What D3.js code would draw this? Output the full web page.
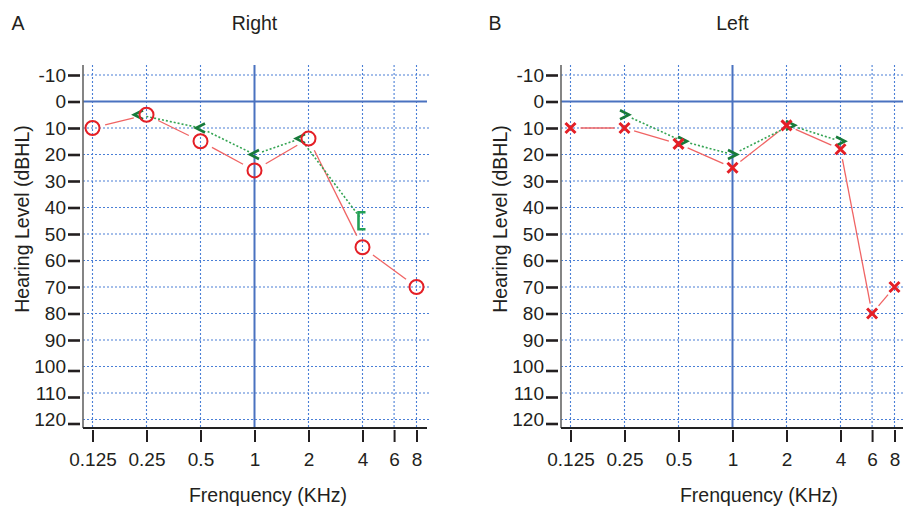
<!DOCTYPE html>
<html>
<head>
<meta charset="utf-8">
<script src="https://cdn.jsdelivr.net/npm/d3@7"></script>
<style>
  body { margin: 0; background: #fff; }
  svg { display: block; font-family: "Liberation Sans", Arial, sans-serif; }
  .tick text { font-size: 19px; fill: #231f20; }
</style>
</head>
<body>
<div id="chart"></div>
<script>
// frequency axis (kHz)
var freqTicks = [0.125, 0.25, 0.5, 1, 2, 4, 6, 8];
var freqLabels = ['0.125', '0.25', '0.5', '1', '2', '4', '6', '8'];
// hearing level axis (dBHL)
var dbTicks = [-10, 0, 10, 20, 30, 40, 50, 60, 70, 80, 90, 100, 110, 120];
var dbLabels = ['-10', '0', '10', '20', '30', '40', '50', '60', '70', '80', '90', '100', '110', '120'];

// A - right ear
var rightAirFreq = [0.125, 0.25, 0.5, 1, 2, 4, 8];
var rightAirDb = [10, 5, 15, 26, 14, 55, 70];
var rightBoneFreq = [0.25, 0.5, 1, 2, 4];
var rightBoneDb = [5, 10, 20, 14, 45];
var rightBoneSym = ['<', '<', '<', '<', '['];

// B - left ear
var leftAirFreq = [0.125, 0.25, 0.5, 1, 2, 4, 6, 8];
var leftAirDb = [10, 10, 16, 25, 9, 18, 80, 70];
var leftBoneFreq = [0.25, 0.5, 1, 2, 4];
var leftBoneDb = [5, 15, 20, 9, 15];
var leftBoneSym = ['>', '>', '>', '>', '>'];

var W = 903, H = 506;
var red = '#e41f26', redLine = '#f06464';
var green = '#177a3a', greenLine = '#35a453';
var gridBlue = '#4a7fd6', solidBlue = '#4a72c0';

var svg = d3.select('#chart').append('svg')
  .attr('width', W).attr('height', H);

var y = d3.scaleLinear().domain([-10, 120]).range([75, 419.5]);
var plotTop = 65, plotBottom = 428;

function shorten(a, b, g1, g2) {
  var dx = b[0] - a[0], dy = b[1] - a[1];
  var len = Math.sqrt(dx * dx + dy * dy);
  if (len < g1 + g2) return null;
  return [[a[0] + dx * g1 / len, a[1] + dy * g1 / len],
          [b[0] - dx * g2 / len, b[1] - dy * g2 / len]];
}

function drawPanel(p) {
  var x = d3.scaleLog().base(2).domain([0.125, 8]).range([p.x0 + 9.5, p.x0 + 333.5]);
  var right = p.x0 + 347;
  var g = svg.append('g');

  // letter + title
  g.append('text').attr('x', p.letterX).attr('y', 30)
    .attr('text-anchor', 'middle').style('font-size', '19.5px').attr('fill', '#231f20')
    .text(p.letter);
  g.append('text').attr('x', x(1)).attr('y', 30)
    .attr('text-anchor', 'middle').style('font-size', '19.5px').attr('fill', '#231f20')
    .text(p.title);

  // grid
  g.selectAll('.hgrid').data(dbTicks.filter(function(d) { return d !== 0; }))
    .enter().append('line')
    .attr('x1', p.x0).attr('x2', right)
    .attr('y1', function(d) { return y(d); }).attr('y2', function(d) { return y(d); })
    .attr('stroke', gridBlue).attr('stroke-width', 1.1).attr('stroke-dasharray', '2,2');
  g.selectAll('.vgrid').data(freqTicks.filter(function(d) { return d !== 1; }))
    .enter().append('line')
    .attr('x1', function(d) { return x(d); }).attr('x2', function(d) { return x(d); })
    .attr('y1', plotTop).attr('y2', plotBottom)
    .attr('stroke', gridBlue).attr('stroke-width', 1.1).attr('stroke-dasharray', '2,2');
  g.append('line').attr('x1', p.x0).attr('x2', right - 3)
    .attr('y1', y(0)).attr('y2', y(0))
    .attr('stroke', solidBlue).attr('stroke-width', 2);
  g.append('line').attr('x1', x(1)).attr('x2', x(1))
    .attr('y1', plotTop).attr('y2', plotBottom)
    .attr('stroke', solidBlue).attr('stroke-width', 2);

  // axis lines
  g.append('line').attr('x1', p.x0).attr('x2', p.x0)
    .attr('y1', plotTop).attr('y2', plotBottom)
    .attr('stroke', '#666').attr('stroke-width', 1.6);
  g.append('line').attr('x1', p.x0).attr('x2', right - 3)
    .attr('y1', plotBottom).attr('y2', plotBottom)
    .attr('stroke', '#222').attr('stroke-width', 2.2);

  // y axis
  var yAxis = g.append('g').attr('transform', 'translate(' + (p.x0 - 3) + ',0)')
    .call(d3.axisLeft(y).tickValues(dbTicks)
      .tickFormat(function(d, i) { return dbLabels[i]; })
      .tickSize(12).tickPadding(2));
  yAxis.select('.domain').remove();
  yAxis.selectAll('.tick line').attr('stroke', '#231f20').attr('stroke-width', 2.6)
    .attr('transform', function(d) { return d >= 100 ? 'translate(0,4)' : null; });

  // x axis
  var xAxis = g.append('g').attr('transform', 'translate(0,' + (plotBottom + 2) + ')')
    .call(d3.axisBottom(x).tickValues(freqTicks)
      .tickFormat(function(d, i) { return freqLabels[i]; })
      .tickSize(12).tickPadding(10.5));
  xAxis.select('.domain').remove();
  xAxis.selectAll('.tick line').attr('stroke', '#231f20').attr('stroke-width', 2);

  // axis titles
  g.append('text')
    .attr('transform', 'translate(' + (p.x0 - 54) + ',219) rotate(-90)')
    .attr('text-anchor', 'middle').style('font-size', '19.5px').attr('fill', '#231f20')
    .text('Hearing Level (dBHL)');
  g.append('text').attr('x', p.xTitleX).attr('y', 502)
    .attr('text-anchor', 'middle').style('font-size', '19.5px').attr('fill', '#231f20')
    .text('Frenquency (KHz)');

  // air conduction
  var air = p.airFreq.map(function(f, i) { return [x(f), y(p.airDb[i])]; });
  var gap = p.airSym === 'o' ? 13 : 10;
  for (var i = 0; i < air.length - 1; i++) {
    var s = shorten(air[i], air[i + 1], gap, gap);
    if (s) g.append('line').attr('x1', s[0][0]).attr('y1', s[0][1])
      .attr('x2', s[1][0]).attr('y2', s[1][1])
      .attr('stroke', redLine).attr('stroke-width', 1.3);
  }

  // bone conduction, nudged sideways when sitting on the air symbol
  var bone = p.boneFreq.map(function(f, i) {
    var j = p.airFreq.indexOf(f);
    var near = j >= 0 && Math.abs(p.airDb[j] - p.boneDb[i]) < 3;
    var shift = 0;
    if (near) shift = p.boneSym[i] === '>' ? 4 : -8;
    return [x(f) + shift, y(p.boneDb[i])];
  });
  for (var k = 0; k < bone.length - 1; k++) {
    var t = shorten(bone[k], bone[k + 1], 8, 5);
    if (t) g.append('line').attr('x1', t[0][0]).attr('y1', t[0][1])
      .attr('x2', t[1][0]).attr('y2', t[1][1])
      .attr('stroke', greenLine).attr('stroke-width', 1.6).attr('stroke-dasharray', '2,2');
  }

  var symPath = {
    '<': 'M4.5,-4.5L-4.5,0L4.5,4.5',
    '>': 'M-4.5,-4.5L4.5,0L-4.5,4.5',
    '[': 'M3,-8.5L-4,-8.5L-4,8.5L3,8.5'
  };
  g.selectAll('.bone').data(bone).enter().append('path')
    .attr('transform', function(d) { return 'translate(' + d[0] + ',' + d[1] + ')'; })
    .attr('d', function(d, i) { return symPath[p.boneSym[i]]; })
    .attr('fill', 'none')
    .attr('stroke', function(d, i) { return p.boneSym[i] === '[' ? '#22a055' : green; })
    .attr('stroke-width', 2.6);

  if (p.airSym === 'o') {
    g.selectAll('.air').data(air).enter().append('circle')
      .attr('cx', function(d) { return d[0]; }).attr('cy', function(d) { return d[1]; })
      .attr('r', 7).attr('fill', 'none').attr('stroke', red).attr('stroke-width', 2);
  } else {
    g.selectAll('.air').data(air).enter().append('path')
      .attr('transform', function(d) { return 'translate(' + d[0] + ',' + d[1] + ')'; })
      .attr('d', 'M-5,-5L5,5M5,-5L-5,5')
      .attr('fill', 'none').attr('stroke', red).attr('stroke-width', 3);
  }
}

drawPanel({
  x0: 83, letter: 'A', letterX: 18, title: 'Right', xTitleX: 268,
  airFreq: rightAirFreq, airDb: rightAirDb, airSym: 'o',
  boneFreq: rightBoneFreq, boneDb: rightBoneDb, boneSym: rightBoneSym
});
drawPanel({
  x0: 561, letter: 'B', letterX: 495, title: 'Left', xTitleX: 759,
  airFreq: leftAirFreq, airDb: leftAirDb, airSym: 'x',
  boneFreq: leftBoneFreq, boneDb: leftBoneDb, boneSym: leftBoneSym
});
</script>
</body>
</html>
